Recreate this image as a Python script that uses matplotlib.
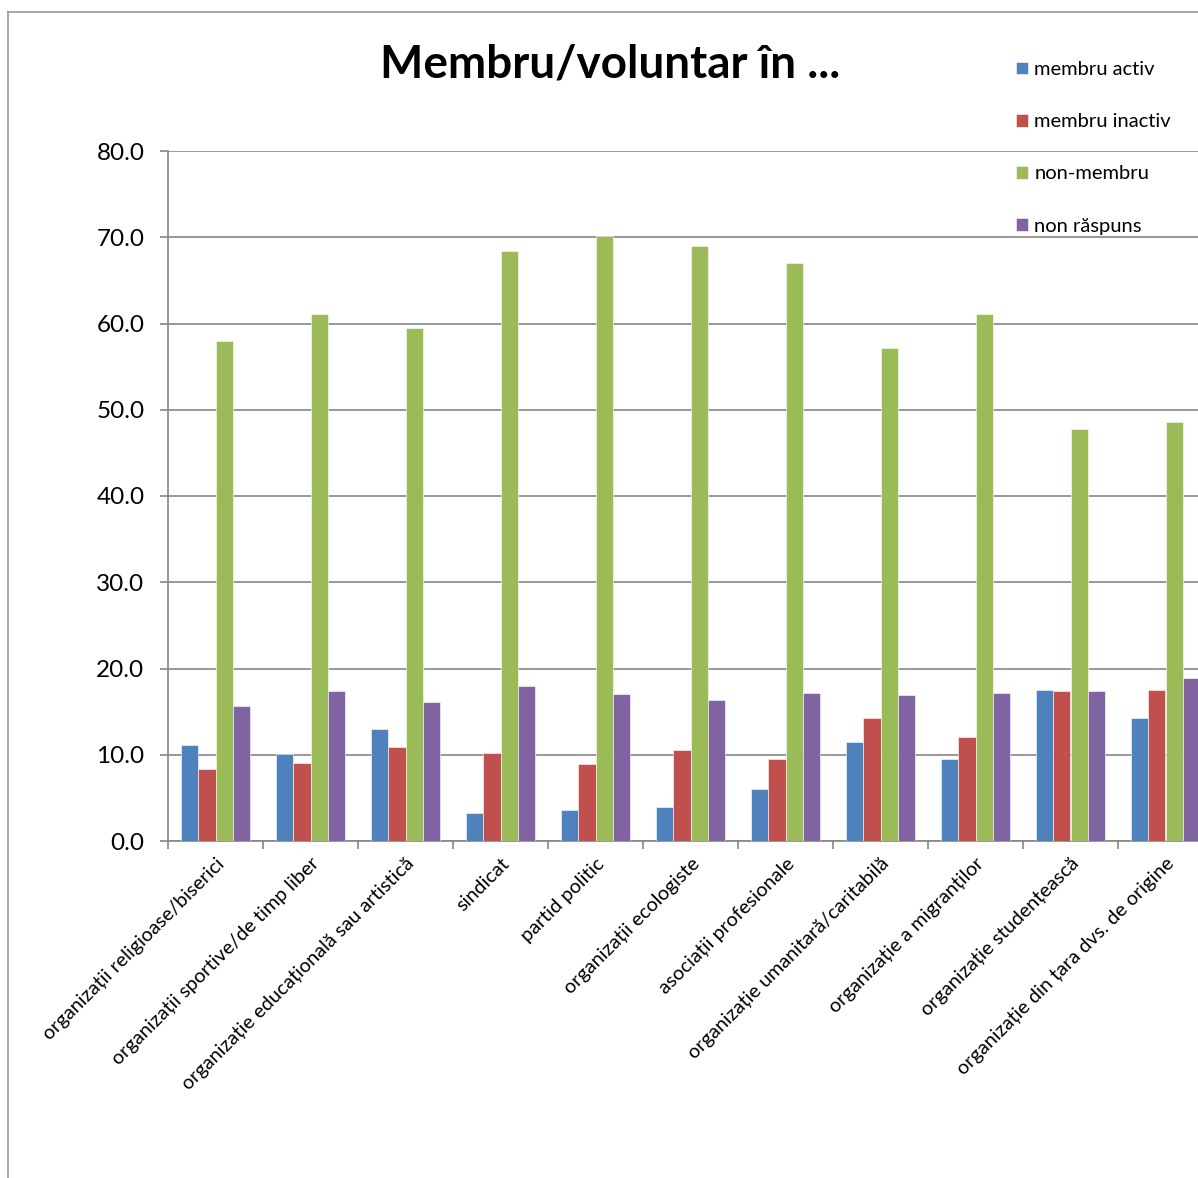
import matplotlib
matplotlib.use('Agg')
import matplotlib.pyplot as plt
import numpy as np

plt.rcParams['font.family'] = ['Lato', 'DejaVu Sans']

categorii = ['organizații religioase/biserici',
             'organizații sportive/de timp liber',
             'organizație educațională sau artistică',
             'sindicat',
             'partid politic',
             'organizații ecologiste',
             'asociații profesionale',
             'organizație umanitară/caritabilă',
             'organizație a migranților',
             'organizație studențească',
             'organizație din țara dvs. de origine']

serii = ['membru activ', 'membru inactiv', 'non-membru', 'non răspuns']
culori = ['#4F81BD', '#C0504D', '#9BBB59', '#8064A2']

membru_activ = [11.1, 10.1, 13.0, 3.3, 3.6, 4.0, 6.0, 11.5, 9.5, 17.5, 14.3]
membru_inactiv = [8.3, 9.0, 10.9, 10.2, 8.9, 10.5, 9.5, 14.3, 12.1, 17.4, 17.5]
non_membru = [58.0, 61.1, 59.5, 68.4, 70.1, 69.0, 67.0, 57.2, 61.1, 47.8, 48.6]
non_raspuns = [15.7, 17.4, 16.1, 18.0, 17.1, 16.4, 17.2, 16.9, 17.2, 17.4, 18.9]

valori = [membru_activ, membru_inactiv, non_membru, non_raspuns]
yticks = np.arange(0, 81, 10)

W, H = 1198, 1178
fig = plt.figure(figsize=(W / 100, H / 100), dpi=100)

# chenarul zonei graficului
fig.add_artist(plt.Line2D([8 / W, 8 / W], [0, 1 - 12 / H], color='#9a9a9a', lw=1.2))
fig.add_artist(plt.Line2D([8 / W, 1], [1 - 12 / H, 1 - 12 / H], color='#9a9a9a', lw=1.2))

ax = fig.add_axes([168 / W, 1 - 841 / H, 1045 / W, 690 / H])

x = np.arange(len(categorii))
w = 1 / 5.5
for k, (nume, val, c) in enumerate(zip(serii, valori, culori)):
    ax.bar(x + (k - 1.5) * w, val, width=w, color=c, label=nume,
           edgecolor='#ffffff', linewidth=0.4, zorder=3)

ax.set_xlim(-0.5, len(categorii) - 0.5)
ax.set_ylim(0, 80)
ax.set_yticks(yticks)
ax.set_yticklabels([f'{v:.1f}' for v in yticks], fontsize=17.5)
ax.yaxis.grid(True, color='#868686', linewidth=1.2, zorder=0)
ax.tick_params(axis='y', length=6, width=1.2, color='#868686', pad=11)

ax.set_xticks(x)
ax.set_xticklabels(categorii, rotation=45, ha='right', va='top',
                   rotation_mode='anchor', fontsize=14.3)
ax.set_xticks(np.arange(len(categorii) + 1) - 0.5, minor=True)
ax.tick_params(axis='x', which='major', length=0, pad=10)
ax.tick_params(axis='x', which='minor', length=6, width=1.2, color='#868686')

for s in ['top', 'right']:
    ax.spines[s].set_visible(False)
for s in ['left', 'bottom']:
    ax.spines[s].set_color('#868686')
    ax.spines[s].set_linewidth(1.2)

fig.text(610 / W, 1 - 65 / H, 'Membru/voluntar în ...', ha='center', va='center',
         fontsize=33, fontweight='bold')

fig.legend(loc='upper left', bbox_to_anchor=(1016 / W, 1 - 61 / H), frameon=False,
           fontsize=14.5, handlelength=0.6, handleheight=0.6, handletextpad=0.3,
           labelspacing=1.75, borderpad=0, borderaxespad=0)

fig.savefig('out.png', dpi=100)
